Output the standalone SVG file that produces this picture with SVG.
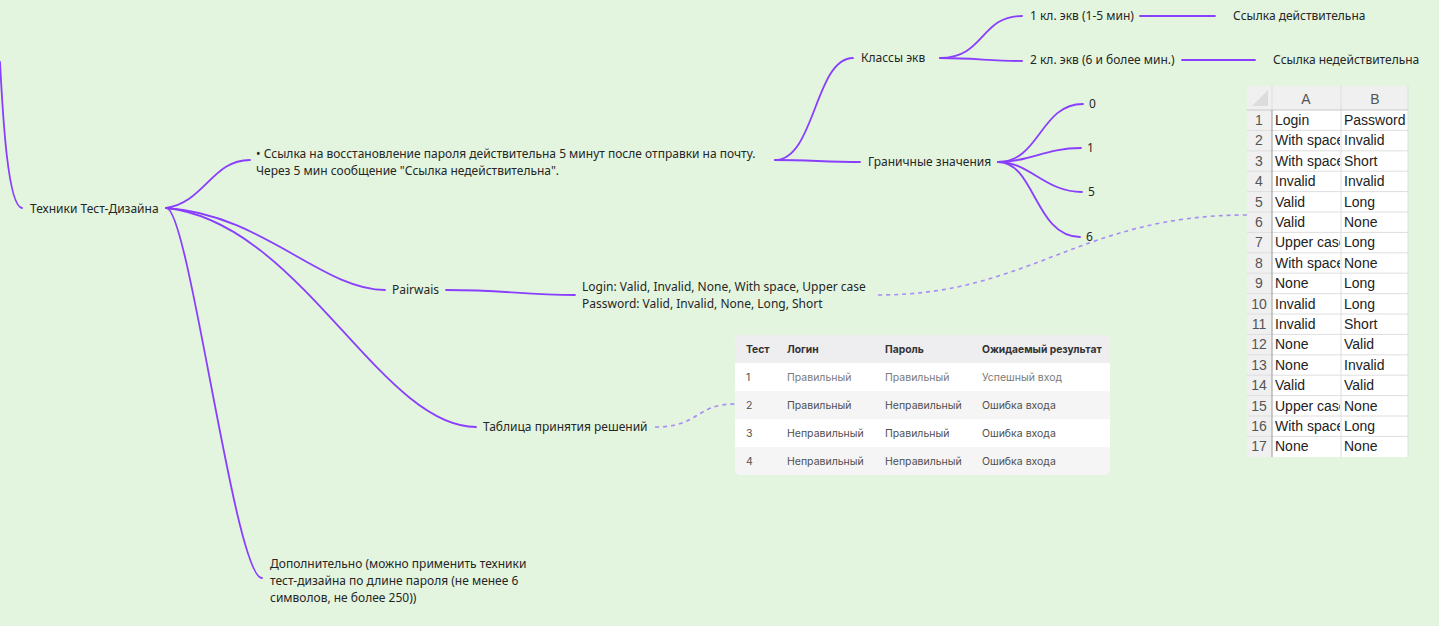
<svg xmlns="http://www.w3.org/2000/svg" width="1439" height="626" viewBox="0 0 1439 626">
<style>
.bg{fill:#e3f5df}
.ln{fill:none;stroke:#8a3ffc;stroke-width:1.8;stroke-linecap:round}
.dl{fill:none;stroke:#a98bf5;stroke-width:1.6;stroke-dasharray:4 4}
.t{font-family:"Noto Sans","Open Sans",sans-serif;font-size:12px;fill:#262626}
.th{font-family:Inter,"Noto Sans",sans-serif;font-size:10.3px;font-weight:700;fill:#333}
.td{font-family:Inter,"Noto Sans",sans-serif;font-size:10.5px;fill:#505050}
.tl{font-family:Inter,"Noto Sans",sans-serif;font-size:10.5px;fill:#7a7a7a}
.xc{font-family:"Liberation Sans",Arial,sans-serif;font-size:14px;fill:#222}
.xn{font-family:"Liberation Sans",Arial,sans-serif;font-size:14px;fill:#555;text-anchor:middle}
.grid{stroke:#dedede;stroke-width:1}
</style>
<defs>
<clipPath id="clipA"><rect x="1272" y="110" width="68" height="347"/></clipPath>
</defs>
<rect class="bg" x="0" y="0" width="1439" height="626"/>

<g id="connectors">
<path class="ln" d="M0,62 C3,120 8,206 22,208"/>
<path class="ln" d="M166,208 C205,202 212,160 250,160"/>
<path class="ln" d="M166,208 C262,214 322,290 385,290"/>
<path class="ln" d="M166,208 C300,222 380,427 476,427"/>
<path class="ln" d="M167,208 C190,215 235,578 262,578"/>
<path class="ln" d="M775,160 C815,160 815,58 853,58"/>
<path class="ln" d="M775,160 C810,160 825,162 860,162"/>
<path class="ln" d="M940,58 C985,58 980,16 1022,16"/>
<path class="ln" d="M940,58 C975,58 990,61 1022,61"/>
<path class="ln" d="M1140,16 L1215,16"/>
<path class="ln" d="M1182,60 L1255,60"/>
<path class="ln" d="M998,162 C1040,162 1040,104 1083,104"/>
<path class="ln" d="M998,162 C1030,162 1045,148 1081,148"/>
<path class="ln" d="M998,162 C1030,162 1045,192 1082,192"/>
<path class="ln" d="M998,162 C1035,162 1035,237 1080,237"/>
<path class="ln" d="M446,290 C510,290 520,295 575,295"/>
<path class="dl" d="M878,295 C1030,295 1080,215 1247,215"/>
<path class="dl" d="M655,427 C700,427 695,404 735,404"/>
</g>

<g id="root"><text class="t" x="30" y="213">Техники Тест-Дизайна</text></g>
<g id="link-note">
<text class="t" x="256" y="158">• Ссылка на восстановление пароля действительна 5 минут после отправки на почту.</text>
<text class="t" x="256" y="175">Через 5 мин сообщение "Ссылка недействительна".</text>
</g>
<g id="classes"><text class="t" x="861" y="62">Классы экв</text></g>
<g id="class1"><text class="t" x="1030" y="20">1 кл. экв (1-5 мин)</text></g>
<g id="class1-res"><text class="t" x="1233" y="20">Ссылка действительна</text></g>
<g id="class2"><text class="t" x="1030" y="64">2 кл. экв (6 и более мин.)</text></g>
<g id="class2-res"><text class="t" x="1273" y="64">Ссылка недействительна</text></g>
<g id="boundary"><text class="t" x="868" y="166">Граничные значения</text></g>
<g id="b0"><text class="t" x="1089" y="108">0</text></g>
<g id="b1"><text class="t" x="1087" y="152">1</text></g>
<g id="b5"><text class="t" x="1088" y="196">5</text></g>
<g id="b6"><text class="t" x="1086" y="241">6</text></g>
<g id="pairwais"><text class="t" x="392" y="294">Pairwais</text></g>
<g id="pairwais-values">
<text class="t" x="582" y="291">Login: Valid, Invalid, None, With space, Upper case</text>
<text class="t" x="582" y="308">Password: Valid, Invalid, None, Long, Short</text>
</g>
<g id="decision"><text class="t" x="483" y="431">Таблица принятия решений</text></g>
<g id="extra">
<text class="t" x="270" y="568">Дополнительно (можно применить техники</text>
<text class="t" x="270" y="585">тест-дизайна по длине пароля (не менее 6</text>
<text class="t" x="270" y="602">символов, не более 250))</text>
</g>

<g id="decision-table">
<rect x="735" y="335" width="375" height="140" rx="6" fill="#ffffff"/>
<path d="M741,335 H1104 A6,6 0 0 1 1110,341 V363 H735 V341 A6,6 0 0 1 741,335 Z" fill="#eeeef1"/>
<rect x="735" y="391" width="375" height="28" fill="#f5f5f6"/>
<path d="M735,447 H1110 V469 A6,6 0 0 1 1104,475 H741 A6,6 0 0 1 735,469 Z" fill="#f5f5f6"/>
<text class="th" x="746" y="353">Тест</text>
<text class="th" x="787" y="353">Логин</text>
<text class="th" x="885" y="353">Пароль</text>
<text class="th" x="982" y="353">Ожидаемый результат</text>
<text class="td" x="746" y="381">1</text>
<text class="tl" x="787" y="381">Правильный</text>
<text class="tl" x="885" y="381">Правильный</text>
<text class="tl" x="982" y="381">Успешный вход</text>
<text class="td" x="746" y="409">2</text>
<text class="td" x="787" y="409">Правильный</text>
<text class="td" x="885" y="409">Неправильный</text>
<text class="td" x="982" y="409">Ошибка входа</text>
<text class="td" x="746" y="437">3</text>
<text class="td" x="787" y="437">Неправильный</text>
<text class="td" x="885" y="437">Правильный</text>
<text class="td" x="982" y="437">Ошибка входа</text>
<text class="td" x="746" y="465">4</text>
<text class="td" x="787" y="465">Неправильный</text>
<text class="td" x="885" y="465">Неправильный</text>
<text class="td" x="982" y="465">Ошибка входа</text>
</g>

<g id="pairwise-table">
<rect x="1247" y="86" width="161" height="371" fill="#ffffff"/>
<rect x="1247" y="86" width="161" height="24" fill="#f0f0f0"/>
<rect x="1247" y="110" width="25" height="347" fill="#f0f0f0"/>
<polygon points="1268,90 1268,106 1252,106" fill="#dcdcdc"/>
<g class="grid">
<line x1="1272" y1="86" x2="1272" y2="110"/>
<line x1="1341" y1="86" x2="1341" y2="457"/>
<line x1="1408" y1="86" x2="1408" y2="457"/>
<line x1="1247" y1="130.4" x2="1408" y2="130.4"/>
<line x1="1247" y1="150.8" x2="1408" y2="150.8"/>
<line x1="1247" y1="171.2" x2="1408" y2="171.2"/>
<line x1="1247" y1="191.6" x2="1408" y2="191.6"/>
<line x1="1247" y1="212" x2="1408" y2="212"/>
<line x1="1247" y1="232.4" x2="1408" y2="232.4"/>
<line x1="1247" y1="252.8" x2="1408" y2="252.8"/>
<line x1="1247" y1="273.2" x2="1408" y2="273.2"/>
<line x1="1247" y1="293.6" x2="1408" y2="293.6"/>
<line x1="1247" y1="314" x2="1408" y2="314"/>
<line x1="1247" y1="334.4" x2="1408" y2="334.4"/>
<line x1="1247" y1="354.8" x2="1408" y2="354.8"/>
<line x1="1247" y1="375.2" x2="1408" y2="375.2"/>
<line x1="1247" y1="395.6" x2="1408" y2="395.6"/>
<line x1="1247" y1="416" x2="1408" y2="416"/>
<line x1="1247" y1="436.4" x2="1408" y2="436.4"/>
</g>
<line x1="1247" y1="110" x2="1408" y2="110" stroke="#c8c8c8" stroke-width="1"/>
<line x1="1272" y1="110" x2="1272" y2="457" stroke="#9a9a9a" stroke-width="1"/>
<text class="xn" x="1306" y="104">A</text>
<text class="xn" x="1375" y="104">B</text>
<g class="xn">
<text x="1259" y="125">1</text><text x="1259" y="145.4">2</text><text x="1259" y="165.8">3</text><text x="1259" y="186.2">4</text><text x="1259" y="206.6">5</text><text x="1259" y="227">6</text><text x="1259" y="247.4">7</text><text x="1259" y="267.8">8</text><text x="1259" y="288.2">9</text><text x="1259" y="308.6">10</text><text x="1259" y="329">11</text><text x="1259" y="349.4">12</text><text x="1259" y="369.8">13</text><text x="1259" y="390.2">14</text><text x="1259" y="410.6">15</text><text x="1259" y="431">16</text><text x="1259" y="451.4">17</text>
</g>
<g class="xc" clip-path="url(#clipA)">
<text x="1275" y="125">Login</text><text x="1275" y="145.4">With space</text><text x="1275" y="165.8">With space</text><text x="1275" y="186.2">Invalid</text><text x="1275" y="206.6">Valid</text><text x="1275" y="227">Valid</text><text x="1275" y="247.4">Upper case</text><text x="1275" y="267.8">With space</text><text x="1275" y="288.2">None</text><text x="1275" y="308.6">Invalid</text><text x="1275" y="329">Invalid</text><text x="1275" y="349.4">None</text><text x="1275" y="369.8">None</text><text x="1275" y="390.2">Valid</text><text x="1275" y="410.6">Upper case</text><text x="1275" y="431">With space</text><text x="1275" y="451.4">None</text>
</g>
<g class="xc">
<text x="1344" y="125">Password</text><text x="1344" y="145.4">Invalid</text><text x="1344" y="165.8">Short</text><text x="1344" y="186.2">Invalid</text><text x="1344" y="206.6">Long</text><text x="1344" y="227">None</text><text x="1344" y="247.4">Long</text><text x="1344" y="267.8">None</text><text x="1344" y="288.2">Long</text><text x="1344" y="308.6">Long</text><text x="1344" y="329">Short</text><text x="1344" y="349.4">Valid</text><text x="1344" y="369.8">Invalid</text><text x="1344" y="390.2">Valid</text><text x="1344" y="410.6">None</text><text x="1344" y="431">Long</text><text x="1344" y="451.4">None</text>
</g>
</g>
</svg>
